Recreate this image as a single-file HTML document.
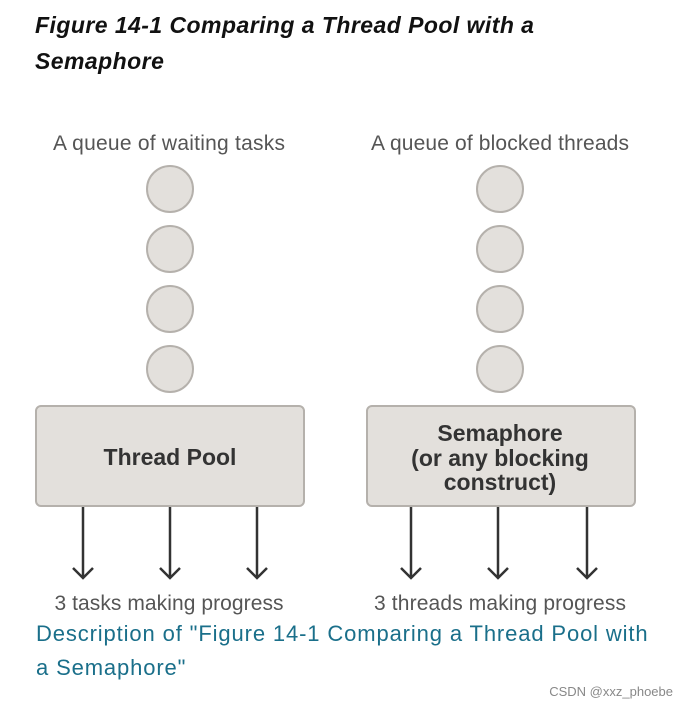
<!DOCTYPE html>
<html><head><style>
body{margin:0;width:687px;height:708px;background:#fff;position:relative;font-family:"Liberation Sans",sans-serif;overflow:hidden}
.t{position:absolute;left:35px;top:7px;font-size:23px;font-weight:bold;font-style:italic;line-height:36px;color:#111;letter-spacing:0.45px;white-space:nowrap}
.d{position:absolute;left:36px;top:617px;font-size:22px;line-height:34px;color:#1a6f8a;letter-spacing:0.87px;white-space:nowrap}
.w{position:absolute;right:14px;top:684px;font-size:13px;color:#888}
</style></head><body>
<div class="t">Figure 14-1 Comparing a Thread Pool with a<br>Semaphore</div>
<svg width="687" height="708" style="position:absolute;left:0;top:0" font-family="Liberation Sans,sans-serif">
<g fill="#555" font-size="21" text-anchor="middle">
<text x="169" y="150" textLength="232">A queue of waiting tasks</text>
<text x="500" y="150" textLength="258">A queue of blocked threads</text>
<text x="169" y="610" textLength="229">3 tasks making progress</text>
<text x="500" y="610" textLength="252">3 threads making progress</text>
</g>
<g fill="#e3e0dc" stroke="#b5b1ac" stroke-width="2">
<circle cx="170" cy="189" r="23"/><circle cx="170" cy="249" r="23"/><circle cx="170" cy="309" r="23"/><circle cx="170" cy="369" r="23"/>
<circle cx="500" cy="189" r="23"/><circle cx="500" cy="249" r="23"/><circle cx="500" cy="309" r="23"/><circle cx="500" cy="369" r="23"/>
<rect x="36" y="406" width="268" height="100" rx="5"/>
<rect x="367" y="406" width="268" height="100" rx="5"/>
</g>
<g fill="#333" font-size="23" font-weight="bold" text-anchor="middle">
<text x="170" y="465">Thread Pool</text>
<text x="500" y="441">Semaphore</text>
<text x="500" y="466">(or any blocking</text>
<text x="500" y="490">construct)</text>
</g>
<g stroke="#333" stroke-width="2.5" fill="none">
<path d="M83 507V578M73 568l10 10 10-10"/>
<path d="M170 507V578M160 568l10 10 10-10"/>
<path d="M257 507V578M247 568l10 10 10-10"/>
<path d="M411 507V578M401 568l10 10 10-10"/>
<path d="M498 507V578M488 568l10 10 10-10"/>
<path d="M587 507V578M577 568l10 10 10-10"/>
</g>
</svg>
<div class="d">Description of "Figure 14-1 Comparing a Thread Pool with<br>a Semaphore"</div>
<div class="w">CSDN @xxz_phoebe</div>
</body></html>
